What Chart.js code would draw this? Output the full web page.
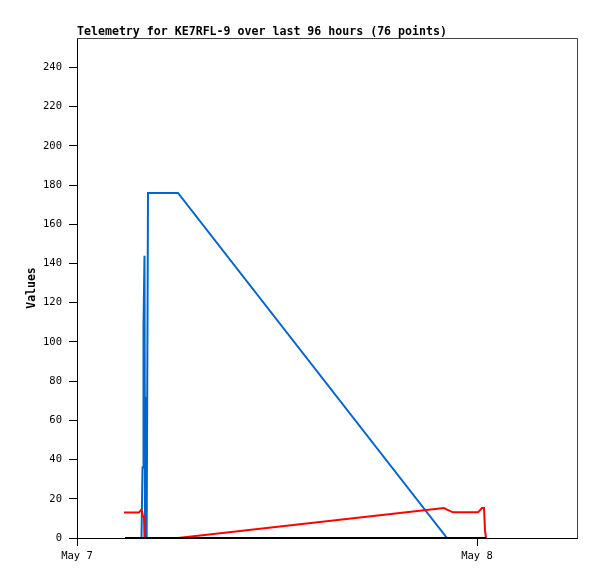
<!DOCTYPE html>
<html>
<head>
<meta charset="utf-8">
<script src="https://cdn.jsdelivr.net/npm/chart.js@4.4.1/dist/chart.umd.min.js"></script>
<style>body{margin:0;background:#fff}</style>
</head>
<body>
<canvas id="chart" width="597" height="579" style="width:597px;height:579px"></canvas>
<script>
// hours since May 7 00:00
const blueHours  = [3.87, 3.93, 3.96, 3.99, 4.05, 4.08, 4.14, 4.18, 4.26, 6.06, 22.2];
const blueValues = [0, 36, 36, 108, 144, 0, 72, 0, 176, 176, 0];

const redHours  = [2.82, 3.72, 3.87, 3.96, 4.02, 4.05, 6.06, 22.02, 22.2, 22.56, 24.06, 24.3, 24.42, 24.48, 24.54];
const redValues = [13, 13, 14.5, 11, 11, 0, 0, 15.3, 14.5, 13.1, 13.1, 15.3, 15.3, 4, 0];

const blackHours  = [2.88, 24.54];
const blackValues = [0, 0];

const xTickHours  = [0, 24];
const xTickLabels = ['May 7', 'May 8'];
const yTicks = [0, 20, 40, 60, 80, 100, 120, 140, 160, 180, 200, 220, 240];

function toPoints(hours, values) {
    return hours.map((h, i) => ({ x: h, y: values[i] }));
}

const monoFont = '"DejaVu Sans Mono", "Liberation Mono", monospace';

// Titel und Rahmen selbst zeichnen
const framePlugin = {
    id: 'frame',
    afterDraw(chart) {
        const { ctx, chartArea: a } = chart;
        ctx.save();
        ctx.strokeStyle = '#444';
        ctx.lineWidth = 1;
        ctx.beginPath();
        ctx.moveTo(a.left, a.top + 0.5);
        ctx.lineTo(a.right + 0.5, a.top + 0.5);
        ctx.lineTo(a.right + 0.5, a.bottom);
        ctx.stroke();
        ctx.fillStyle = '#000';
        ctx.font = 'bold 11.6px ' + monoFont;
        ctx.textBaseline = 'alphabetic';
        ctx.fillText('Telemetry for KE7RFL-9 over last 96 hours (76 points)', a.left, 35);
        ctx.restore();
    }
};

new Chart(document.getElementById('chart'), {
    type: 'line',
    data: {
        datasets: [
            { data: toPoints(blackHours, blackValues), borderColor: '#000', order: 0 },
            { data: toPoints(redHours, redValues), borderColor: '#ff0000', order: 1 },
            { data: toPoints(blueHours, blueValues), borderColor: '#0066cc', order: 2 }
        ]
    },
    options: {
        responsive: false,
        animation: false,
        devicePixelRatio: 1,
        layout: { padding: { top: 38, right: 20, left: 0, bottom: 0 } },
        elements: {
            point: { radius: 0 },
            line: { borderWidth: 2, tension: 0 }
        },
        plugins: {
            legend: { display: false },
            tooltip: { enabled: false }
        },
        scales: {
            x: {
                type: 'linear',
                min: 0,
                max: 30,
                afterBuildTicks: scale => { scale.ticks = xTickHours.map(v => ({ value: v })); },
                afterFit: scale => { scale.height = 41; },
                ticks: {
                    autoSkip: false,
                    maxRotation: 0,
                    padding: 4,
                    color: '#000',
                    font: { family: monoFont, size: 10.5 },
                    callback: v => xTickLabels[xTickHours.indexOf(v)]
                },
                grid: { drawOnChartArea: false, drawTicks: true, tickLength: 8, color: '#000' },
                border: { color: '#000', width: 1 }
            },
            y: {
                min: 0,
                max: 255,
                afterBuildTicks: scale => { scale.ticks = yTicks.map(v => ({ value: v })); },
                afterFit: scale => { scale.width = 77; },
                ticks: {
                    padding: 7,
                    color: '#000',
                    font: { family: monoFont, size: 10.5 }
                },
                grid: { drawOnChartArea: false, drawTicks: true, tickLength: 8, color: '#000' },
                border: { color: '#000', width: 1 },
                title: {
                    display: true,
                    text: 'Values',
                    color: '#000',
                    font: { family: monoFont, size: 11.5, weight: 'bold' },
                    padding: { top: 25, bottom: 0 }
                }
            }
        }
    },
    plugins: [framePlugin]
});
</script>
</body>
</html>
